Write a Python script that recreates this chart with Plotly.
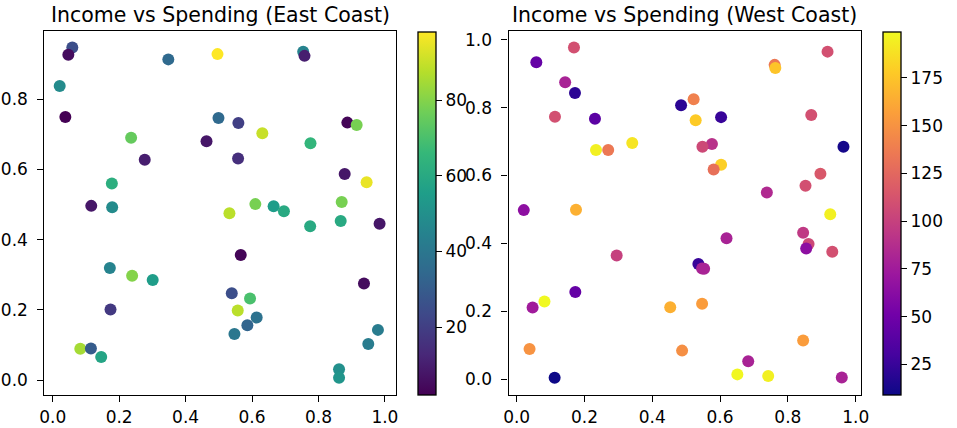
import plotly.graph_objects as go

# East Coast data
east_income = [0.059, 0.047, 0.348, 0.496, 0.754, 0.758, 0.021, 0.038, 0.499, 0.559,
               0.631, 0.887, 0.915, 0.236, 0.463, 0.776, 0.277, 0.558, 0.879, 0.945,
               0.178, 0.116, 0.179, 0.610, 0.665, 0.696, 0.532, 0.870, 0.867, 0.775,
               0.984, 0.566, 0.172, 0.239, 0.301, 0.937, 0.539, 0.594, 0.174, 0.557,
               0.614, 0.586, 0.547, 0.979, 0.950, 0.083, 0.115, 0.146, 0.862, 0.862]
east_spending = [0.947, 0.926, 0.913, 0.928, 0.935, 0.923, 0.837, 0.749, 0.746, 0.732,
                 0.703, 0.733, 0.726, 0.690, 0.680, 0.674, 0.627, 0.631, 0.587, 0.563,
                 0.560, 0.496, 0.492, 0.501, 0.495, 0.481, 0.475, 0.507, 0.453, 0.438,
                 0.445, 0.356, 0.319, 0.297, 0.285, 0.275, 0.247, 0.232, 0.201, 0.198,
                 0.178, 0.156, 0.131, 0.143, 0.103, 0.089, 0.090, 0.066, 0.031, 0.007]
east_value = [25, 5, 35, 98, 45, 10, 48, 2, 35, 20,
              90, 3, 78, 75, 8, 65, 10, 15, 8, 95,
              62, 8, 48, 78, 55, 60, 88, 78, 60, 60,
              8, 3, 45, 80, 55, 5, 25, 70, 18, 88,
              38, 33, 40, 42, 42, 85, 30, 58, 50, 52]

# West Coast data
west_income = [0.169, 0.058, 0.917, 0.761, 0.763, 0.143, 0.172, 0.522, 0.485, 0.113,
               0.231, 0.603, 0.528, 0.869, 0.341, 0.234, 0.270, 0.576, 0.548, 0.603,
               0.581, 0.964, 0.896, 0.852, 0.738, 0.021, 0.175, 0.925, 0.845, 0.861,
               0.854, 0.931, 0.619, 0.295, 0.536, 0.547, 0.553, 0.173, 0.082, 0.047,
               0.453, 0.547, 0.038, 0.488, 0.845, 0.683, 0.651, 0.742, 0.112, 0.959]
west_spending = [0.977, 0.934, 0.965, 0.926, 0.917, 0.875, 0.843, 0.825, 0.807, 0.773,
                 0.767, 0.772, 0.763, 0.778, 0.696, 0.675, 0.675, 0.693, 0.685, 0.632,
                 0.618, 0.685, 0.605, 0.570, 0.550, 0.498, 0.499, 0.486, 0.431, 0.398,
                 0.385, 0.375, 0.415, 0.364, 0.339, 0.326, 0.325, 0.257, 0.229, 0.211,
                 0.212, 0.222, 0.089, 0.084, 0.114, 0.053, 0.014, 0.009, 0.004, 0.005]
west_value = [110, 45, 110, 135, 175, 80, 20, 140, 20, 110,
              40, 25, 178, 110, 190, 195, 135, 90, 105, 180,
              130, 12, 115, 110, 85, 65, 165, 195, 95, 105,
              65, 110, 80, 100, 25, 80, 80, 45, 199, 75,
              165, 155, 150, 148, 155, 80, 198, 195, 9, 80]

east_ticks = [20, 40, 60, 80]
west_ticks = [25, 50, 75, 100, 125, 150, 175]
axis_ticks = [0.0, 0.2, 0.4, 0.6, 0.8, 1.0]
axis_ticktext = ["0.0", "0.2", "0.4", "0.6", "0.8", "1.0"]

W, H = 957, 428
FONT = "DejaVu Sans"
FS = 17

def px(x):
    return x / W

def py(y):
    return 1 - y / H

fig = go.Figure()
fig.add_trace(go.Scatter(x=east_income, y=east_spending, mode="markers",
                         marker=dict(size=12, color=east_value, coloraxis="coloraxis",
                                     line=dict(width=0)),
                         xaxis="x", yaxis="y", showlegend=False))
fig.add_trace(go.Scatter(x=west_income, y=west_spending, mode="markers",
                         marker=dict(size=12, color=west_value, coloraxis="coloraxis2",
                                     line=dict(width=0)),
                         xaxis="x2", yaxis="y2", showlegend=False))

ax_common = dict(showline=True, mirror=True, linecolor="black", linewidth=1.3,
                 ticks="outside", ticklen=6, tickwidth=1.3, tickcolor="black",
                 showgrid=False, zeroline=False, tickvals=axis_ticks, ticktext=axis_ticktext,
                 tickfont=dict(family=FONT, size=FS, color="black"))

ydom = [py(395), py(30)]
fig.update_layout(
    width=W, height=H, margin=dict(l=0, r=0, t=0, b=0),
    paper_bgcolor="white", plot_bgcolor="white",
    font=dict(family=FONT, size=FS, color="black"),
    xaxis=dict(domain=[px(40), px(397)], range=[-0.025, 1.034], anchor="y", **ax_common),
    yaxis=dict(domain=ydom, range=[-0.0426, 0.994], anchor="x", ticklabelstandoff=6, **ax_common),
    xaxis2=dict(domain=[px(511), px(868.3)], range=[-0.024, 1.0145], anchor="y2", **ax_common),
    yaxis2=dict(domain=ydom, range=[-0.047, 1.026], anchor="x2", ticklabelstandoff=6, **ax_common),
    coloraxis=dict(colorscale="Viridis", cmin=2, cmax=98,
                   colorbar=dict(x=px(419), xanchor="left", y=py(395), yanchor="bottom",
                                 len=364 / H, lenmode="fraction", thickness=18,
                                 thicknessmode="pixels", xpad=0, ypad=0,
                                 outlinewidth=1.3, outlinecolor="black",
                                 tickvals=east_ticks, ticks="outside", ticklen=6,
                                 tickwidth=1.3, tickcolor="black",
                                 tickfont=dict(family=FONT, size=FS, color="black"))),
    coloraxis2=dict(colorscale="Plasma", cmin=9, cmax=199,
                    colorbar=dict(x=px(890.7), xanchor="left", y=py(395), yanchor="bottom",
                                  len=364 / H, lenmode="fraction", thickness=18,
                                  thicknessmode="pixels", xpad=0, ypad=0,
                                  outlinewidth=1.3, outlinecolor="black",
                                  tickvals=west_ticks, ticks="outside", ticklen=6,
                                  tickwidth=1.3, tickcolor="black",
                                  tickfont=dict(family=FONT, size=FS, color="black"))),
    annotations=[
        dict(text="Income vs Spending (East Coast)", x=px(218.5), y=py(14), xref="paper",
             yref="paper", xanchor="center", yanchor="middle", showarrow=False,
             font=dict(family=FONT, size=20.5, color="black")),
        dict(text="Income vs Spending (West Coast)", x=px(689.5), y=py(14), xref="paper",
             yref="paper", xanchor="center", yanchor="middle", showarrow=False,
             font=dict(family=FONT, size=20.5, color="black")),
    ],
)

fig.write_html("out.html")
